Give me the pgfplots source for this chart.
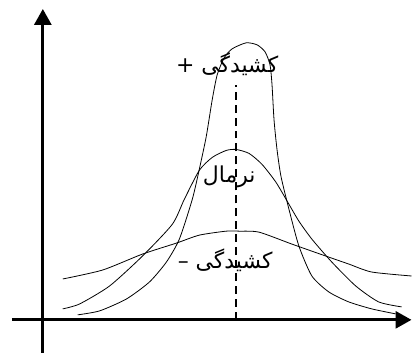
\documentclass[border=0pt]{standalone}
\usepackage{fontspec}
\usepackage{pgfplots}
\pgfplotsset{compat=1.18}
\usetikzlibrary{arrows.meta}
\TeXXeTstate=1
\newfontfamily\arabicfont[Script=Arabic]{DejaVu Sans}

\begin{document}
\begin{tikzpicture}
\begin{axis}[
    scale only axis,
    width=401pt, height=345pt,
    xmin=-31, xmax=370,
    ymin=-33, ymax=312,
    axis lines=middle,
    axis line style={line width=3pt, -{Triangle[length=16pt,width=17pt]}},
    ticks=none,
    clip=false
]
% leptokurtic
\addplot[black, line width=0.8pt, smooth, tension=0.4] coordinates {
(35,5) (57,9) (84,21) (107,38) (124,58) (137,81) (150,121) (157,151)
(164,184) (170,221) (175,246) (182,263) (190,272) (204,278) (215,276)
(223,269) (228,256) (230,236) (232,201) (235,171) (239,144) (247,111)
(257,74) (270,44) (287,28) (307,18) (330,11) (354,6)};
% normal
\addplot[black, line width=0.8pt, smooth, tension=0.4] coordinates {
(20,11) (37,16) (67,34) (100,64) (130,96) (142,121) (157,150) (170,163)
(184,170) (194,171) (207,167) (220,156) (234,138) (247,116) (257,99)
(270,81) (290,58) (314,34) (337,18) (360,13)};
% platykurtic
\addplot[black, line width=0.8pt, smooth, tension=0.4] coordinates {
(20,41) (60,50) (100,66) (134,77) (157,85) (184,89) (197,89) (217,88)
(250,76) (284,64) (307,56) (330,48) (370,44)};
% mean line
\addplot[black, line width=2pt, dash pattern=on 8pt off 5pt] coordinates {(194,0) (194,236)};

\node[font=\arabicfont\fontsize{22}{26}\selectfont] at (axis cs:185,256) {\beginR کشیدگی +\endR};
\node[font=\arabicfont\fontsize{22}{26}\selectfont] at (axis cs:187,144) {\beginR نرمال\endR};
\node[font=\arabicfont\fontsize{22}{26}\selectfont] at (axis cs:183,60) {\beginR کشیدگی –\endR};
\path (axis cs:-43,321) (axis cs:370,-33);
\end{axis}
\end{tikzpicture}
\end{document}
